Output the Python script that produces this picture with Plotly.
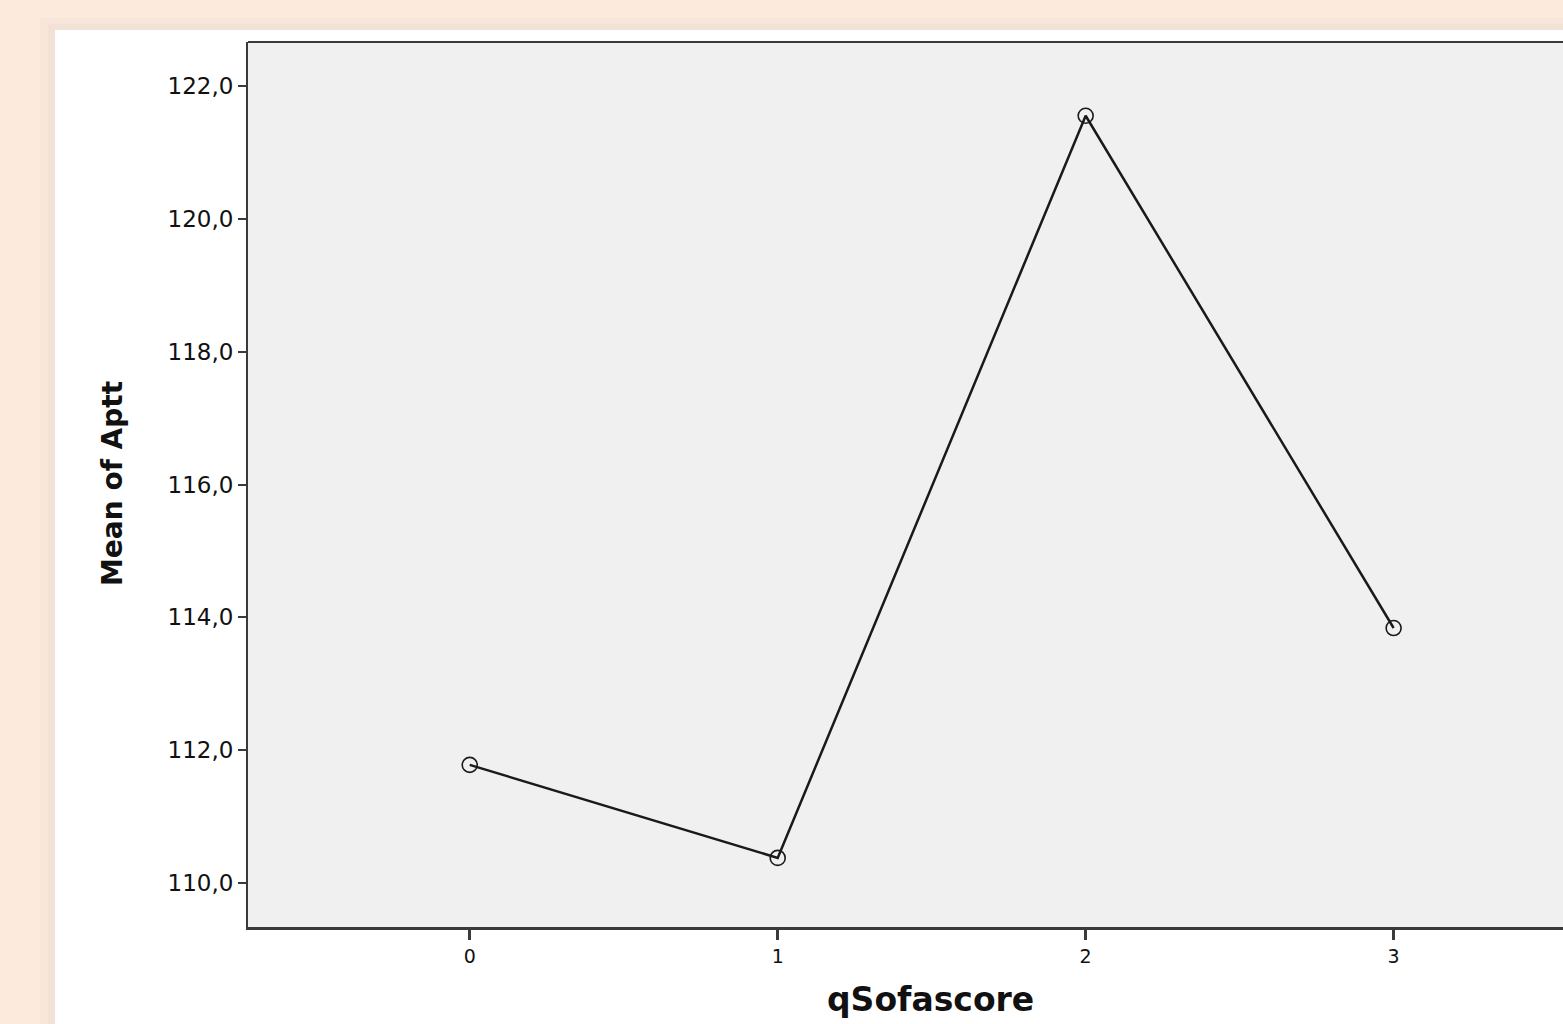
import plotly.graph_objects as go

categories = [0, 1, 2, 3]
mean_aptt = [111.78, 110.38, 121.55, 113.84]
y_tick_vals = [110, 112, 114, 116, 118, 120, 122]
y_tick_text = ["110,0", "112,0", "114,0", "116,0", "118,0", "120,0", "122,0"]
x_tick_text = ["0", "1", "2", "3"]

W, H = 1563, 1024
L, T, B, R = 248, 42, 97, 0
PW, PH = W - L - R, H - T - B


def px_x(x):
    return (x - L) / PW


def px_y(y):
    return 1 - (y - T) / PH


fig = go.Figure()
fig.add_trace(go.Scatter(
    x=categories, y=mean_aptt, mode="lines+markers",
    line=dict(color="#1a1a1a", width=2.5),
    marker=dict(symbol="circle-open", size=15, color="#1a1a1a", line=dict(width=1.6)),
    showlegend=False, hoverinfo="skip",
))

shapes = [
    # soft shadow around the white panel
    dict(type="rect", xref="paper", yref="paper",
         x0=px_x(40), x1=px_x(W + 50), y0=px_y(H + 50), y1=px_y(18),
         fillcolor="#F7E6D9", line=dict(width=0), layer="below"),
    dict(type="rect", xref="paper", yref="paper",
         x0=px_x(48), x1=px_x(W + 50), y0=px_y(H + 50), y1=px_y(24),
         fillcolor="#F2E2D6", line=dict(width=0), layer="below"),
    # white panel
    dict(type="rect", xref="paper", yref="paper",
         x0=px_x(55), x1=px_x(W + 50), y0=px_y(H + 50), y1=px_y(30),
         fillcolor="white", line=dict(width=0), layer="below"),
    # plot area fill
    dict(type="rect", xref="x domain", yref="y domain", x0=0, x1=1, y0=0, y1=1,
         fillcolor="#F0F0F0", line=dict(width=0), layer="below"),
    # top border of frame
    dict(type="line", xref="paper", yref="paper", x0=0, x1=1, y0=1, y1=1,
         line=dict(color="#3a3a3a", width=2)),
]

fig.update_layout(
    width=W, height=H,
    margin=dict(l=L, r=R, t=T, b=B),
    paper_bgcolor="#FCEADC",
    plot_bgcolor="#F0F0F0",
    font=dict(family="DejaVu Sans, Verdana, sans-serif", color="#111111"),
    shapes=shapes,
    annotations=[
        dict(text="<b>qSofascore</b>", xref="paper", yref="paper",
             x=px_x(930), y=px_y(999),
             showarrow=False, font=dict(size=33, color="#111111"),
             xanchor="center", yanchor="middle"),
        dict(text="<b>Mean of Aptt</b>", xref="paper", yref="paper",
             x=px_x(112), y=px_y(484),
             showarrow=False, font=dict(size=28, color="#111111"), textangle=-90,
             xanchor="center", yanchor="middle"),
    ],
)

fig.update_xaxes(
    range=[-0.72, 3.55], tickvals=categories, ticktext=x_tick_text,
    showgrid=False, zeroline=False,
    showline=True, linecolor="#3a3a3a", linewidth=3, mirror=False,
    ticks="outside", ticklen=10, tickwidth=3, tickcolor="#3a3a3a",
    tickfont=dict(size=19, color="#111111"),
)
fig.update_yaxes(
    range=[109.34, 122.66], tickvals=y_tick_vals, ticktext=y_tick_text,
    showgrid=False, zeroline=False,
    showline=True, linecolor="#3a3a3a", linewidth=2,
    ticks="outside", ticklen=8, tickwidth=2, tickcolor="#3a3a3a",
    tickfont=dict(size=23, color="#111111"),
)

fig.write_html("out.html", config={"displayModeBar": False},
               post_script="document.body.style.margin='0';")
